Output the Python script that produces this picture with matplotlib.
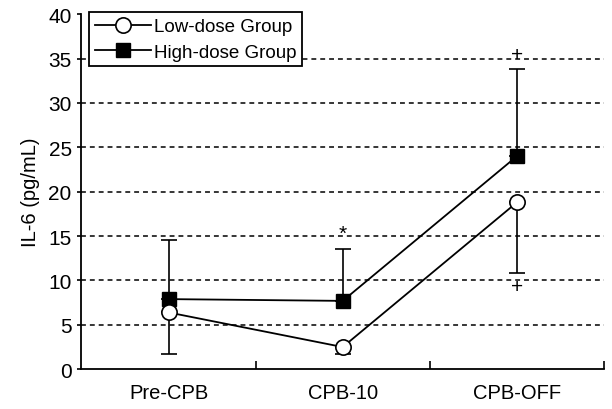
import numpy as np
from matplotlib import pyplot as plt

plt.rcParams['font.family'] = ['Liberation Sans', 'DejaVu Sans']

# IL-6 means and one-sided SD per time point
stages = ["Pre-CPB", "CPB-10", "CPB-OFF"]
low_mean = [6.4, 2.5, 18.8]
low_sd = [4.7, 0.8, 8.0]
high_mean = [7.9, 7.7, 24.0]
high_sd = [6.7, 5.9, 9.8]

x = np.arange(len(stages))

fig, ax = plt.subplots(figsize=(6.12, 4.10), dpi=100)
fig.subplots_adjust(left=0.133, right=0.987, top=0.963, bottom=0.097)

for lvl in range(5, 40, 5):
    ax.axhline(lvl, color="black", linestyle=(0, (3.2, 2.6)), linewidth=1.1, zorder=1)

# low-dose bars point down, high-dose bars point up
ax.errorbar(x, low_mean, yerr=[low_sd, np.zeros(3)], fmt="none", ecolor="black",
            elinewidth=1.2, capsize=6, capthick=1.2, zorder=2)
ax.errorbar(x, high_mean, yerr=[np.zeros(3), high_sd], fmt="none", ecolor="black",
            elinewidth=1.2, capsize=6, capthick=1.2, zorder=2)

ax.plot(x, low_mean, "-o", color="black", markerfacecolor="white", markeredgewidth=1.2,
        markersize=11, linewidth=1.3, label="Low-dose Group", zorder=4)
ax.plot(x, high_mean, "-s", color="black", markersize=9.5, linewidth=1.3,
        label="High-dose Group", zorder=3)

# significance marks
ax.text(1, high_mean[1] + high_sd[1] + 0.6, "*", ha="center", va="bottom", fontsize=15)
ax.text(2, high_mean[2] + high_sd[2] + 0.6, "+", ha="center", va="bottom", fontsize=15)
ax.text(2, low_mean[2] - low_sd[2] - 0.4, "+", ha="center", va="top", fontsize=15)

ax.set_xlim(-0.5, 2.5)
ax.set_ylim(0, 40)
ax.set_yticks(range(0, 45, 5))
ax.tick_params(axis="y", labelsize=15, direction="out", length=3, width=1.2, pad=4)

ax.set_xticks([0.5, 1.5, 2.5])
ax.set_xticklabels([])
ax.tick_params(axis="x", which="major", direction="in", length=6, width=1.2)
ax.set_xticks(x, minor=True)
ax.set_xticklabels(stages, minor=True)
ax.tick_params(axis="x", which="minor", length=0, labelsize=14.5, pad=10)

ax.spines["top"].set_visible(False)
ax.spines["right"].set_visible(False)
ax.spines["left"].set_linewidth(1.3)
ax.spines["bottom"].set_linewidth(1.3)

ax.set_ylabel("IL-6 (pg/mL)", fontsize=14.5, labelpad=6)

leg = ax.legend(loc="upper left", bbox_to_anchor=(0.015, 1.005), fontsize=13.5,
                frameon=True, fancybox=False, edgecolor="black", framealpha=1,
                borderpad=0.3, labelspacing=0.45, handlelength=3.0, handletextpad=0.15,
                borderaxespad=0)
leg.get_frame().set_linewidth(1.3)

plt.savefig("out.png")
